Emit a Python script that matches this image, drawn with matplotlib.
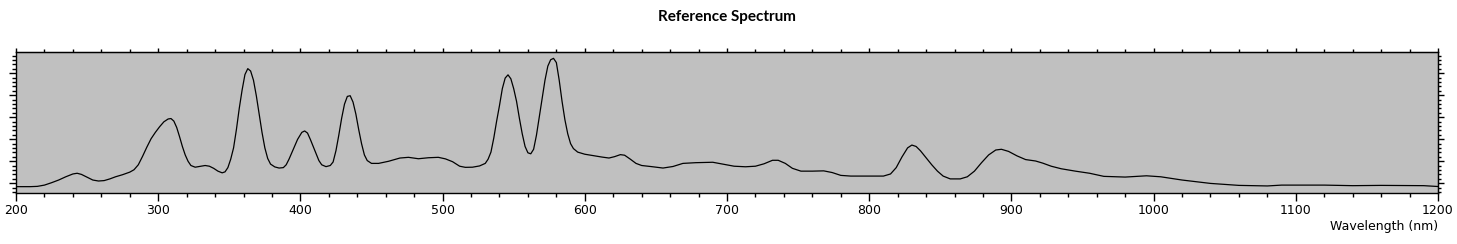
import matplotlib.pyplot as plt
from matplotlib.ticker import MultipleLocator, AutoMinorLocator, NullFormatter

wavelength = [200, 210, 215, 220, 225, 230, 235, 240, 243, 246, 250, 254, 258, 262, 266,
              270, 275, 280, 283, 286, 289, 292, 295, 298, 301, 304, 307, 309, 311, 313,
              315, 317, 319, 321, 323, 326, 330, 333, 336, 339, 342, 345, 347, 349, 351,
              353, 355, 357, 359, 361, 363, 365, 367, 369, 371, 373, 375, 377, 379, 382,
              385, 388, 390, 392, 395, 398, 401, 403, 405, 407, 409, 411, 413, 415, 418,
              421, 423, 425, 427, 429, 431, 433, 435, 437, 439, 441, 443, 445, 447, 450,
              455, 462, 470, 476, 483, 490, 497, 502, 507, 512, 516, 521, 526, 530, 532,
              534, 536, 538, 540, 542, 544, 546, 548, 550, 552, 554, 556, 558, 560, 562,
              564, 566, 568, 570, 572, 574, 576, 578, 580, 582, 584, 586, 588, 590, 592,
              595, 600, 606, 612, 617, 621, 625, 628, 632, 636, 640, 647, 655, 662, 669,
              678, 690, 697, 705, 713, 720, 726, 732, 736, 741, 746, 752, 760, 768, 774,
              780, 787, 810, 815, 819, 823, 827, 830, 833, 836, 840, 844, 848, 852, 857,
              864, 869, 874, 879, 884, 889, 893, 898, 904, 910, 917, 922, 928, 935, 945,
              955, 965, 980, 995, 1005, 1020, 1040, 1060, 1080, 1090, 1120, 1140, 1160, 1190,
              1200]
intensity = [0.045, 0.045, 0.047, 0.056, 0.073, 0.092, 0.115, 0.135, 0.14, 0.132, 0.112, 0.092, 0.085, 0.088, 0.1,
             0.115, 0.13, 0.148, 0.165, 0.2, 0.26, 0.325, 0.385, 0.43, 0.47, 0.505, 0.525, 0.528, 0.51, 0.465,
             0.4, 0.33, 0.27, 0.225, 0.195, 0.183, 0.19, 0.195, 0.19, 0.175, 0.155, 0.143, 0.15, 0.18, 0.24,
             0.32, 0.45, 0.6, 0.73, 0.84, 0.882, 0.865, 0.8, 0.69, 0.56, 0.43, 0.32, 0.245, 0.205, 0.185,
             0.177, 0.18, 0.2, 0.24, 0.31, 0.38, 0.43, 0.44, 0.425, 0.38, 0.33, 0.28, 0.23, 0.2, 0.187,
             0.195, 0.22, 0.3, 0.41, 0.53, 0.63, 0.685, 0.69, 0.645, 0.56, 0.45, 0.35, 0.27, 0.23, 0.21,
             0.21, 0.225, 0.248, 0.253, 0.243, 0.25, 0.253, 0.242, 0.222, 0.19, 0.182, 0.183, 0.192, 0.21, 0.24,
             0.29, 0.39, 0.51, 0.62, 0.74, 0.815, 0.838, 0.81, 0.74, 0.65, 0.53, 0.42, 0.33, 0.285, 0.278,
             0.31, 0.41, 0.54, 0.67, 0.8, 0.9, 0.945, 0.955, 0.925, 0.8, 0.65, 0.52, 0.42, 0.35, 0.315,
             0.29, 0.275, 0.265, 0.255, 0.248, 0.258, 0.272, 0.268, 0.24, 0.21, 0.195, 0.187, 0.177, 0.188, 0.21,
             0.215, 0.218, 0.205, 0.19, 0.186, 0.19, 0.207, 0.232, 0.232, 0.21, 0.175, 0.155, 0.155, 0.157, 0.145,
             0.125, 0.12, 0.12, 0.135, 0.18, 0.255, 0.32, 0.34, 0.33, 0.3, 0.25, 0.2, 0.155, 0.12, 0.1,
             0.1, 0.115, 0.155, 0.215, 0.27, 0.305, 0.31, 0.295, 0.263, 0.237, 0.227, 0.212, 0.19, 0.172, 0.155,
             0.14, 0.118, 0.113, 0.122, 0.115, 0.092, 0.068, 0.054, 0.05, 0.056, 0.056, 0.052, 0.054, 0.052,
             0.046]

fig = plt.figure(figsize=(14.57, 2.44), dpi=100)
ax = fig.add_axes([16/1457, 1 - 193/244, 1422/1457, 141/244])
ax.set_facecolor("#c0c0c0")

ax.plot(wavelength, intensity, color="black", lw=0.9)

ax.set_xlim(200, 1200)
ax.set_ylim(0, 1)

# graduations bas / gauche
ax.xaxis.set_major_locator(MultipleLocator(100))
ax.xaxis.set_minor_locator(MultipleLocator(20))
ax.yaxis.set_major_locator(MultipleLocator(0.156, offset=0.069))
ax.yaxis.set_minor_locator(AutoMinorLocator(5))
ax.tick_params(axis="both", which="both", direction="out", color="black", width=1)
ax.tick_params(axis="x", which="major", length=6, labelsize=9, pad=2)
ax.tick_params(axis="x", which="minor", length=3)
ax.tick_params(axis="y", which="major", length=5, labelleft=False)
ax.tick_params(axis="y", which="minor", length=3)

# graduations haut / droite (plus courtes)
top = ax.secondary_xaxis("top")
top.xaxis.set_major_locator(MultipleLocator(100))
top.xaxis.set_minor_locator(MultipleLocator(20))
top.xaxis.set_major_formatter(NullFormatter())
top.tick_params(which="major", length=3, direction="out", width=1)
top.tick_params(which="minor", length=2, direction="out", width=1)
right = ax.secondary_yaxis("right")
right.yaxis.set_major_locator(MultipleLocator(0.156, offset=0.069))
right.yaxis.set_minor_locator(AutoMinorLocator(5))
right.yaxis.set_major_formatter(NullFormatter())
right.tick_params(which="major", length=4, direction="out", width=1)
right.tick_params(which="minor", length=2, direction="out", width=1)

for s in ax.spines.values():
    s.set_linewidth(1)

ax.set_title("Reference Spectrum", fontsize=11, fontweight="bold", family="Lato", pad=22)
ax.set_xlabel("Wavelength (nm)", fontsize=9, loc="right", labelpad=2)

plt.savefig("out.png", dpi=100)
